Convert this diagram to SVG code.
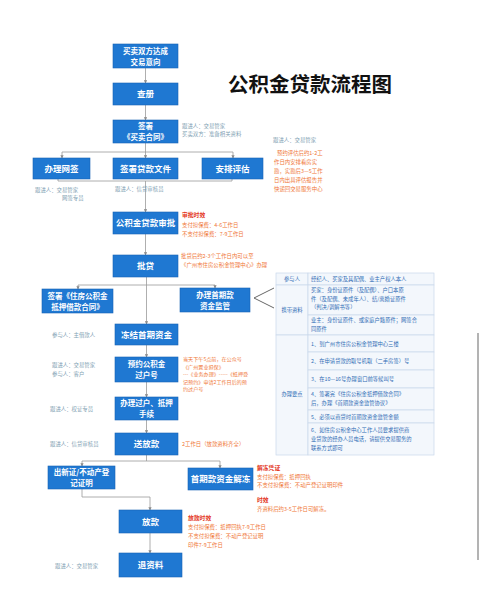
<svg xmlns="http://www.w3.org/2000/svg" width="485" height="600" viewBox="0 0 485 600">
<defs>
<style>
.box{fill:#1f78d2;stroke:#1863b4;stroke-width:0.6}
.bt{font-family:"Noto Sans CJK SC",sans-serif;font-size:8.5px;font-weight:bold;fill:#fff;text-anchor:middle}
.b2{font-family:"Noto Sans CJK SC",sans-serif;font-size:7.5px;font-weight:bold;fill:#fff;text-anchor:middle}
.g{font-family:"Noto Sans CJK SC",sans-serif;font-size:5.4px;fill:#7f9fb3}
.o{font-family:"Noto Sans CJK SC",sans-serif;font-size:5.4px;fill:#f07636}
.o2{font-family:"Noto Sans CJK SC",sans-serif;font-size:5.1px;fill:#f07636}
.r{font-family:"Noto Sans CJK SC",sans-serif;font-size:5.8px;font-weight:bold;fill:#e3341a}
.c{fill:none;stroke:#9a9a9a;stroke-width:0.8}
.tb{font-family:"Noto Sans CJK SC",sans-serif;font-size:5.3px;fill:#2f6cb5}
.cell{fill:#f3f7fc;stroke:#c9d8ea;stroke-width:0.7}
</style>
<marker id="a" viewBox="0 0 6 6" refX="5" refY="3" markerWidth="4" markerHeight="4" orient="auto"><path d="M0 0L6 3L0 6z" fill="#8a8a8a"/></marker>
</defs>
<rect width="485" height="600" fill="#fff"/>
<text x="310" y="92" font-family="Noto Sans CJK SC,sans-serif" font-size="20.5" font-weight="bold" fill="#111" text-anchor="middle">公积金贷款流程图</text>

<g id="connectors">
<path class="c" d="M145.5 68V83" marker-end="url(#a)"/>
<path class="c" d="M145.5 105V120" marker-end="url(#a)"/>
<path class="c" d="M145.5 143V152M62 152H233"/>
<path class="c" d="M62 152V158" marker-end="url(#a)"/>
<path class="c" d="M145.5 152V158" marker-end="url(#a)"/>
<path class="c" d="M233 152V158" marker-end="url(#a)"/>
<path class="c" d="M58 179V181H232V179"/>
<path class="c" d="M145.5 181V212" marker-end="url(#a)"/>
<path class="c" d="M145.5 234V255" marker-end="url(#a)"/>
<path class="c" d="M78 285H215"/>
<path class="c" d="M78 285V289" marker-end="url(#a)"/>
<path class="c" d="M215 285V288" marker-end="url(#a)"/>
<path class="c" d="M146.5 277V324" marker-end="url(#a)"/>
<path class="c" d="M146.5 345V357" marker-end="url(#a)"/>
<path class="c" d="M146.5 382V397" marker-end="url(#a)"/>
<path class="c" d="M146.5 420V433" marker-end="url(#a)"/>
<path class="c" d="M146.5 455V461M82 461H220"/>
<path class="c" d="M82 461V466" marker-end="url(#a)"/>
<path class="c" d="M220 461V468" marker-end="url(#a)"/>
<path class="c" d="M82 489V497H150V510" marker-end="url(#a)"/>
<path class="c" d="M150 533V553" marker-end="url(#a)"/>
<path d="M274 288L254 298L274 308" fill="none" stroke="#555" stroke-width="0.9"/>
</g>

<g id="n1"><rect class="box" x="113" y="44" width="65" height="24"/><text class="b2" x="145.5" y="53.5">买卖双方达成</text><text class="b2" x="145.5" y="64.5">交易意向</text></g>
<g id="n2"><rect class="box" x="113" y="83" width="65" height="22"/><text class="bt" x="145.5" y="97">查册</text></g>
<g id="n3"><rect class="box" x="113" y="120" width="65" height="23"/><text class="b2" x="145.5" y="129">签署</text><text class="b2" x="145.5" y="140">《买卖合同》</text>
<text class="g" x="182" y="128">跟进人：交易管家</text><text class="g" x="182" y="136">买卖双方：准备相关资料</text></g>
<g id="n4"><rect class="box" x="33" y="158" width="57" height="21"/><text class="bt" x="61.5" y="171.5">办理网签</text>
<text class="g" x="35" y="192">跟进人：交易管家</text><text class="g" x="62" y="200">网签专员</text></g>
<g id="n5"><rect class="box" x="113" y="158" width="65" height="21"/><text class="bt" x="145.5" y="171.5">签署贷款文件</text>
<text class="g" x="115" y="191">跟进人：信贷审核员</text></g>
<g id="n6"><rect class="box" x="202" y="158" width="61" height="21"/><text class="bt" x="232.5" y="171.5">安排评估</text>
<text class="g" x="273" y="142">跟进人：交易管家</text>
<text class="o" x="277" y="155">预约评估后约1-2工</text>
<text class="o" x="274" y="164">作日内安排看房实</text>
<text class="o" x="274" y="173">勘，实勘后3—5工作</text>
<text class="o" x="274" y="182">日内出具评估报告并</text>
<text class="o" x="274" y="191">快递回交易服务中心</text></g>
<g id="n7"><rect class="box" x="113" y="212" width="65" height="22"/><text class="bt" x="145.5" y="226">公积金贷款审批</text>
<text class="r" x="182" y="217">审批时效</text><text class="o" x="182" y="227">支付担保费：4-6工作日</text><text class="o" x="182" y="236">不支付担保费：7-9工作日</text></g>
<g id="n8"><rect class="box" x="113" y="255" width="65" height="22"/><text class="bt" x="145.5" y="269">批贷</text>
<text class="o" x="181" y="258">批贷后约2-3个工作日内可以至</text><text class="o" x="181" y="267">《广州市住房公积金管理中心》办理</text></g>
<g id="n9"><rect class="box" x="42" y="289" width="71" height="24"/><text class="b2" x="77.5" y="298.5">签署《住房公积金</text><text class="b2" x="77.5" y="309.5">抵押借款合同》</text></g>
<g id="n10"><rect class="box" x="180" y="288" width="70" height="24"/><text class="b2" x="215" y="297.5">办理首期款</text><text class="b2" x="215" y="308.5">资金监管</text></g>
<g id="n11"><rect class="box" x="115" y="324" width="63" height="21"/><text class="bt" x="146.5" y="337.5">冻结首期资金</text>
<text class="g" x="52" y="337">参与人：主借款人</text></g>
<g id="n12"><rect class="box" x="115" y="357" width="63" height="25"/><text class="b2" x="146.5" y="367">预约公积金</text><text class="b2" x="146.5" y="378">过户号</text>
<text class="g" x="52" y="367">跟进人：交易管家</text><text class="g" x="52" y="376">参与人：客户</text>
<text class="o2" x="183" y="361">当天下午5点前，在公众号</text>
<text class="o2" x="183" y="368.5">《广州置业担保》</text>
<text class="o2" x="183" y="376">---《业务办理》-----《抵押登</text>
<text class="o2" x="183" y="383.5">记预约》申请2工作日后的预</text>
<text class="o2" x="183" y="391">约过户号</text></g>
<g id="n13"><rect class="box" x="115" y="397" width="63" height="23"/><text class="b2" x="146.5" y="406">办理过户、抵押</text><text class="b2" x="146.5" y="417">手续</text>
<text class="g" x="50" y="411">跟进人：权证专员</text></g>
<g id="n14"><rect class="box" x="115" y="433" width="63" height="22"/><text class="bt" x="146.5" y="447">送放款</text>
<text class="g" x="50" y="446">跟进人：信贷审核员</text><text class="o" x="182" y="446">2工作日（放款资料齐全）</text></g>
<g id="n15"><rect class="box" x="48" y="466" width="67" height="23"/><text class="b2" x="81.5" y="475">出新证/不动产登</text><text class="b2" x="81.5" y="486">记证明</text></g>
<g id="n16"><rect class="box" x="188" y="468" width="65" height="22"/><text class="bt" x="220.5" y="482">首期款资金解冻</text>
<text class="r" x="257" y="470">解冻凭证</text><text class="o" x="257" y="478.5">支付担保费：抵押回执</text><text class="o" x="257" y="487">不支付担保费：不动产登记证明印件</text>
<text class="r" x="257" y="502">时效</text><text class="o" x="257" y="511">齐资料后约3-5工作日可解冻。</text></g>
<g id="n17"><rect class="box" x="119" y="510" width="63" height="23"/><text class="bt" x="150.5" y="524.5">放款</text>
<text class="r" x="188" y="520">放款时效</text><text class="o" x="188" y="529">支付担保费：抵押回执7-9工作日</text><text class="o" x="188" y="538">不支付担保费：不动产登记证明</text><text class="o" x="188" y="547">印件7-9工作日</text></g>
<g id="n18"><rect class="box" x="119" y="553" width="63" height="24"/><text class="bt" x="150.5" y="568">退资料</text>
<text class="g" x="55" y="568">跟进人：交易管家</text></g>

<g id="table">
<rect class="cell" x="276" y="273" width="32" height="12"/><rect class="cell" x="308" y="273" width="126" height="12"/>
<rect class="cell" x="276" y="285" width="32" height="50"/><rect class="cell" x="308" y="285" width="126" height="30"/><rect class="cell" x="308" y="315" width="126" height="20"/>
<rect class="cell" x="276" y="335" width="32" height="120"/>
<rect class="cell" x="308" y="335" width="126" height="17"/><rect class="cell" x="308" y="352" width="126" height="18"/><rect class="cell" x="308" y="370" width="126" height="18"/><rect class="cell" x="308" y="388" width="126" height="22"/><rect class="cell" x="308" y="410" width="126" height="13"/><rect class="cell" x="308" y="423" width="126" height="32"/>
<text class="tb" x="292" y="281" text-anchor="middle">参与人</text>
<text class="tb" x="311" y="281">经纪人、买家及其配偶、业主产权人本人</text>
<text class="tb" x="292" y="312" text-anchor="middle">携带资料</text>
<text class="tb" x="311" y="292">买家：身份证原件（及配偶）、户口本原</text>
<text class="tb" x="311" y="300.5">件（及配偶、未成年人）、结/离婚证原件</text>
<text class="tb" x="311" y="309">（判决/调解书等）</text>
<text class="tb" x="311" y="322">业主：身份证原件、或家庭户籍原件；网签合</text>
<text class="tb" x="311" y="330.5">同原件</text>
<text class="tb" x="292" y="396" text-anchor="middle">办理要点</text>
<text class="tb" x="311" y="346">1、到广州市住房公积金管理中心三楼</text>
<text class="tb" x="311" y="363">2、在申请贷款的取号机取（二手房签）号</text>
<text class="tb" x="311" y="381">3、在10—16号办理窗口前等候叫号</text>
<text class="tb" x="311" y="396">4、签署完《住房公积金抵押借款合同》</text>
<text class="tb" x="311" y="405">后，办理《首期款资金监管协议》</text>
<text class="tb" x="311" y="419">5、必须以商贷时首期款资金监管金额</text>
<text class="tb" x="311" y="432">6、如住房公积金中心工作人员要求提供商</text>
<text class="tb" x="311" y="441">业贷款的经办人员电话，请提供交易服务的</text>
<text class="tb" x="311" y="450">联系方式即可</text>
</g>
<line x1="478" y1="333" x2="478" y2="560" stroke="#9a9a9a" stroke-width="1.5"/>
</svg>
